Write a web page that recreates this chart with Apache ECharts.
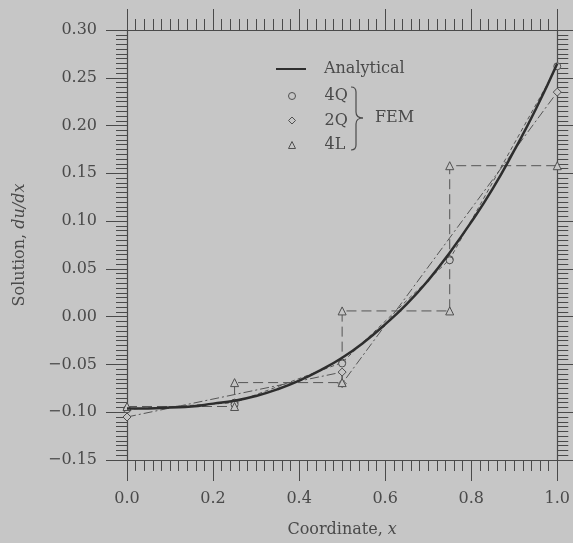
<!DOCTYPE html>
<html>
<head>
<meta charset="utf-8">
<script src="https://cdn.jsdelivr.net/npm/echarts@6/dist/echarts.min.js"></script>
<style>
  html, body { margin: 0; padding: 0; background: #c6c6c6; }
  #chart { width: 573px; height: 543px; }
</style>
</head>
<body>
<div id="chart"></div>
<script>
// Analytical derivative du/dx sampled along the bar
const xSamples = [0.00, 0.05, 0.10, 0.15, 0.20, 0.25, 0.30, 0.35, 0.40, 0.45, 0.50,
                  0.55, 0.60, 0.65, 0.70, 0.75, 0.80, 0.85, 0.90, 0.95, 1.00];
const analytical = [-0.096, -0.096, -0.095, -0.094, -0.091, -0.088, -0.083, -0.076, -0.067, -0.056, -0.043,
                    -0.027, -0.008, 0.013, 0.038, 0.067, 0.099, 0.134, 0.174, 0.217, 0.265];

// FEM derivatives at element ends (4 quadratic, 2 quadratic, 4 linear elements)
const q4X = [0.00, 0.25, 0.25, 0.50, 0.50, 0.75, 0.75, 1.00];
const q4Y = [-0.097, -0.090, -0.092, -0.048, -0.049, 0.060, 0.059, 0.262];
const q2X = [0.00, 0.50, 0.50, 1.00];
const q2Y = [-0.105, -0.058, -0.070, 0.235];
const l4X = [0.00, 0.25, 0.25, 0.50, 0.50, 0.75, 0.75, 1.00];
const l4Y = [-0.094, -0.094, -0.069, -0.069, 0.006, 0.006, 0.158, 0.158];

const seriesNames = ['Analytical', '4Q', '2Q', '4L'];

const bg = '#c6c6c6';
const ink = '#4a4a4a';
const fontFam = '"DejaVu Serif", "Liberation Serif", serif';

const zip = (xs, ys) => xs.map((x, i) => [x, ys[i]]);
const fmtY = v => {
  const s = Math.abs(v) < 1e-9 ? '0.00' : v.toFixed(2);
  return s.replace('-', '\u2212');
};

const tickCommon = {
  axisLine: { show: true, onZero: false, lineStyle: { color: ink, width: 1.2 } },
  axisTick: { show: true, inside: false, length: 21, lineStyle: { color: ink, width: 1 } },
  minorTick: { show: true, splitNumber: 10, length: 11, lineStyle: { color: ink, width: 1 } },
  splitLine: { show: false },
  minorSplitLine: { show: false }
};

const markerStyle = { color: bg, borderColor: '#505050', borderWidth: 1 };
const legendText = { fontFamily: fontFam, fontSize: 16, color: ink };

// curly brace grouping the FEM entries of the legend
const braceStroke = { stroke: ink, lineWidth: 1.2, fill: null };
const brace = {
  type: 'group', z: 10,
  children: [
    { type: 'bezierCurve', shape: { x1: 351, y1: 87, x2: 356, y2: 92, cpx1: 356, cpy1: 87 }, style: braceStroke },
    { type: 'line', shape: { x1: 356, y1: 92, x2: 356, y2: 112 }, style: braceStroke },
    { type: 'bezierCurve', shape: { x1: 356, y1: 112, x2: 363, y2: 118, cpx1: 356, cpy1: 118 }, style: braceStroke },
    { type: 'bezierCurve', shape: { x1: 363, y1: 118, x2: 356, y2: 124, cpx1: 356, cpy1: 118 }, style: braceStroke },
    { type: 'line', shape: { x1: 356, y1: 124, x2: 356, y2: 145 }, style: braceStroke },
    { type: 'bezierCurve', shape: { x1: 356, y1: 145, x2: 351, y2: 150, cpx1: 356, cpy1: 150 }, style: braceStroke }
  ]
};

const chart = echarts.init(document.getElementById('chart'), null, { renderer: 'canvas' });
chart.setOption({
  backgroundColor: bg,
  animation: false,
  grid: { left: 127, right: 14, top: 30, bottom: 82 },
  xAxis: [
    Object.assign({
      type: 'value', position: 'bottom', min: 0, max: 1, interval: 0.2,
      name: '{r|Coordinate, }{i|x}', nameLocation: 'middle', nameGap: 62,
      nameTextStyle: {
        rich: {
          r: { fontFamily: fontFam, fontSize: 16, color: ink },
          i: { fontFamily: fontFam, fontSize: 16, color: ink, fontStyle: 'italic' }
        }
      },
      axisLabel: { margin: 31, fontFamily: fontFam, fontSize: 16, color: ink,
                   formatter: v => v.toFixed(1) }
    }, tickCommon),
    Object.assign({
      type: 'value', position: 'top', min: 0, max: 1, interval: 0.2,
      axisLabel: { show: false }
    }, tickCommon)
  ],
  yAxis: [
    Object.assign({
      type: 'value', position: 'left', min: -0.15, max: 0.30, interval: 0.05,
      name: '{r|Solution, }{i|du/dx}', nameLocation: 'middle', nameGap: 99, nameRotate: 90,
      nameTextStyle: {
        rich: {
          r: { fontFamily: fontFam, fontSize: 16, color: ink },
          i: { fontFamily: fontFam, fontSize: 16, color: ink, fontStyle: 'italic' }
        }
      },
      axisLabel: { margin: 30, fontFamily: fontFam, fontSize: 16, color: ink, formatter: fmtY }
    }, tickCommon),
    Object.assign({
      type: 'value', position: 'right', min: -0.15, max: 0.30, interval: 0.05,
      axisLabel: { show: false }
    }, tickCommon)
  ],
  legend: [
    {
      orient: 'vertical', left: 276, top: 61, padding: 0,
      itemWidth: 30, itemHeight: 2,
      textStyle: Object.assign({ padding: [0, 0, 0, 13] }, legendText),
      data: [{ name: seriesNames[0], icon: 'rect' }]
    },
    {
      orient: 'vertical', left: 288, top: 88, padding: 0,
      itemWidth: 7, itemHeight: 7, itemGap: 8.5,
      itemStyle: { borderWidth: 1 },
      textStyle: Object.assign({ padding: [0, 0, 0, 24] }, legendText),
      data: [
        { name: seriesNames[1], icon: 'circle' },
        { name: seriesNames[2], icon: 'diamond' },
        { name: seriesNames[3], icon: 'triangle' }
      ]
    }
  ],
  graphic: [
    brace,
    {
      type: 'text', left: 375, top: 110, z: 10,
      style: { text: 'FEM', font: '16px ' + fontFam, fill: ink }
    }
  ],
  series: [
    {
      name: seriesNames[1], type: 'line', data: zip(q4X, q4Y),
      symbol: 'circle', symbolSize: 7, showSymbol: true,
      lineStyle: { color: '#555', width: 1, type: [4, 3] },
      itemStyle: markerStyle, z: 3
    },
    {
      name: seriesNames[2], type: 'line', data: zip(q2X, q2Y),
      symbol: 'diamond', symbolSize: 8, showSymbol: true,
      lineStyle: { color: '#555', width: 1, type: [9, 3, 2, 3] },
      itemStyle: markerStyle, z: 3
    },
    {
      name: seriesNames[3], type: 'line', data: zip(l4X, l4Y),
      symbol: 'triangle', symbolSize: 8, showSymbol: true,
      lineStyle: { color: '#555', width: 1, type: [10, 5] },
      itemStyle: markerStyle, z: 3
    },
    {
      name: seriesNames[0], type: 'line', data: zip(xSamples, analytical),
      symbol: 'none', smooth: true,
      lineStyle: { color: '#2e2e2e', width: 2.5 },
      itemStyle: { color: '#2e2e2e' }, z: 4
    }
  ]
});
</script>
</body>
</html>
